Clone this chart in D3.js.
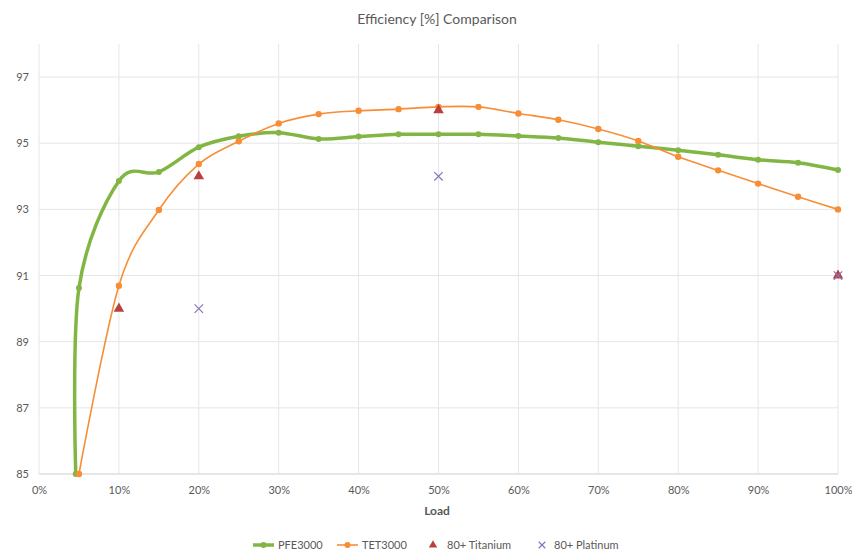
<!DOCTYPE html>
<html>
<head>
<meta charset="utf-8">
<script src="https://cdn.jsdelivr.net/npm/d3@7/dist/d3.min.js"></script>
<style>
  html, body { margin: 0; padding: 0; background: #fff; }
  text { font-family: Lato, "Open Sans", sans-serif; fill: #595959; }
</style>
</head>
<body>
<svg id="chart" width="852" height="555"></svg>
<script>
// ---- data ----
const pfeLoad = [4.6, 5, 10, 15, 20, 25, 30, 35, 40, 45, 50, 55, 60, 65, 70, 75, 80, 85, 90, 95, 100];
const pfeEff  = [85.0, 90.62, 93.86, 94.13, 94.88, 95.21, 95.32, 95.13, 95.2, 95.27, 95.27, 95.27, 95.22, 95.16, 95.03, 94.91, 94.79, 94.65, 94.5, 94.41, 94.19];
const tetLoad = [5, 10, 15, 20, 25, 30, 35, 40, 45, 50, 55, 60, 65, 70, 75, 80, 85, 90, 95, 100];
const tetEff  = [85.0, 90.69, 92.98, 94.37, 95.06, 95.6, 95.88, 95.98, 96.03, 96.1, 96.1, 95.9, 95.71, 95.43, 95.07, 94.59, 94.18, 93.78, 93.38, 93.0];
const titaniumLoad = [10, 20, 50, 100];
const titaniumEff  = [90, 94, 96, 91];
const platinumLoad = [20, 50, 100];
const platinumEff  = [90, 94, 91];
const xTicks = [0, 10, 20, 30, 40, 50, 60, 70, 80, 90, 100];
const yTicks = [85, 87, 89, 91, 93, 95, 97];
const titleText = "Efficiency [%] Comparison";
const xAxisTitle = "Load";
const legendLabels = ["PFE3000", "TET3000", "80+ Titanium", "80+ Platinum"];

(function () {
// ---- layout ----
const svg = d3.select("#chart");
const mLeft = 39, mRight = 838, mTop = 44, mBottom = 474;
const x = d3.scaleLinear().domain([0, 100]).range([mLeft, mRight]);
const y = d3.scaleLinear().domain([85, 98]).range([mBottom, mTop]);

const green = "#82b644", orange = "#f78e36", red = "#b9403d", purple = "#8a73b8";
const font = "Lato, 'Open Sans', sans-serif";

// gridlines
svg.append("g").selectAll("line").data(yTicks).join("line")
  .attr("x1", mLeft).attr("x2", mRight)
  .attr("y1", d => y(d)).attr("y2", d => y(d))
  .attr("stroke", "#e6e6e6").attr("stroke-width", 1);
svg.append("g").selectAll("line").data(xTicks).join("line")
  .attr("x1", d => x(d)).attr("x2", d => x(d))
  .attr("y1", mTop).attr("y2", mBottom)
  .attr("stroke", "#e6e6e6").attr("stroke-width", 1);
svg.append("line").attr("x1", mLeft).attr("x2", mRight).attr("y1", mBottom).attr("y2", mBottom)
  .attr("stroke", "#d9d9d9");

// axes
const xAxis = d3.axisBottom(x).tickValues(xTicks).tickFormat(d => d + "%").tickSize(0).tickPadding(12);
const gx = svg.append("g").attr("transform", `translate(0,${mBottom})`).call(xAxis);
gx.select(".domain").remove();
gx.selectAll("text").attr("font-size", 11).style("fill", "#595959").style("font-family", font);

const yAxis = d3.axisLeft(y).tickValues(yTicks).tickSize(0).tickPadding(10);
const gy = svg.append("g").attr("transform", `translate(${mLeft},0)`).call(yAxis);
gy.select(".domain").remove();
gy.selectAll("text").attr("font-size", 11).style("fill", "#595959").style("font-family", font);

// title & axis title
svg.append("text").attr("x", 437).attr("y", 24).attr("text-anchor", "middle")
  .attr("font-size", 14).text(titleText);
svg.append("text").attr("x", 437).attr("y", 515).attr("text-anchor", "middle")
  .attr("font-size", 12).attr("font-weight", "bold").text(xAxisTitle);

// lines
const pfe = pfeLoad.map((d, i) => [d, pfeEff[i]]);
const tet = tetLoad.map((d, i) => [d, tetEff[i]]);
const line = d3.line().x(d => x(d[0])).y(d => y(d[1])).curve(d3.curveCardinal.tension(0));

svg.append("path").datum(pfe).attr("d", line).attr("fill", "none")
  .attr("stroke", green).attr("stroke-width", 3.5).attr("stroke-linejoin", "round");
svg.append("g").selectAll("circle").data(pfe).join("circle")
  .attr("cx", d => x(d[0])).attr("cy", d => y(d[1])).attr("r", 3).attr("fill", green);

svg.append("path").datum(tet).attr("d", line).attr("fill", "none")
  .attr("stroke", orange).attr("stroke-width", 1.6);
svg.append("g").selectAll("circle").data(tet).join("circle")
  .attr("cx", d => x(d[0])).attr("cy", d => y(d[1])).attr("r", 3.2).attr("fill", orange);

// markers
const tri = d3.symbol().type(d3.symbolTriangle).size(48);
svg.append("g").selectAll("path").data(titaniumLoad.map((d, i) => [d, titaniumEff[i]])).join("path")
  .attr("d", tri).attr("transform", d => `translate(${x(d[0])},${y(d[1])})`).attr("fill", red);

const cross = d3.symbol().type(d3.symbolX).size(48);
svg.append("g").selectAll("path").data(platinumLoad.map((d, i) => [d, platinumEff[i]])).join("path")
  .attr("d", cross).attr("transform", d => `translate(${x(d[0])},${y(d[1])})`)
  .attr("fill", "none").attr("stroke", purple).attr("stroke-width", 1.2);

// legend
const ly = 545;
const lg = svg.append("g");
lg.append("line").attr("x1", 253).attr("x2", 274).attr("y1", ly).attr("y2", ly).attr("stroke", green).attr("stroke-width", 3.5);
lg.append("circle").attr("cx", 263.5).attr("cy", ly).attr("r", 3).attr("fill", green);
lg.append("text").attr("x", 278).attr("y", ly + 4).attr("font-size", 11).text(legendLabels[0]);
lg.append("line").attr("x1", 337).attr("x2", 358).attr("y1", ly).attr("y2", ly).attr("stroke", orange).attr("stroke-width", 1.6);
lg.append("circle").attr("cx", 347.5).attr("cy", ly).attr("r", 3).attr("fill", orange);
lg.append("text").attr("x", 362).attr("y", ly + 4).attr("font-size", 11).text(legendLabels[1]);
lg.append("path").attr("d", d3.symbol().type(d3.symbolTriangle).size(30)).attr("transform", `translate(433,${ly})`).attr("fill", red);
lg.append("text").attr("x", 447).attr("y", ly + 4).attr("font-size", 11).text(legendLabels[2]);
lg.append("path").attr("d", d3.symbol().type(d3.symbolX).size(30)).attr("transform", `translate(542,${ly})`)
  .attr("fill", "none").attr("stroke", purple).attr("stroke-width", 1.2);
lg.append("text").attr("x", 554).attr("y", ly + 4).attr("font-size", 11).text(legendLabels[3]);
})();
</script>
</body>
</html>
